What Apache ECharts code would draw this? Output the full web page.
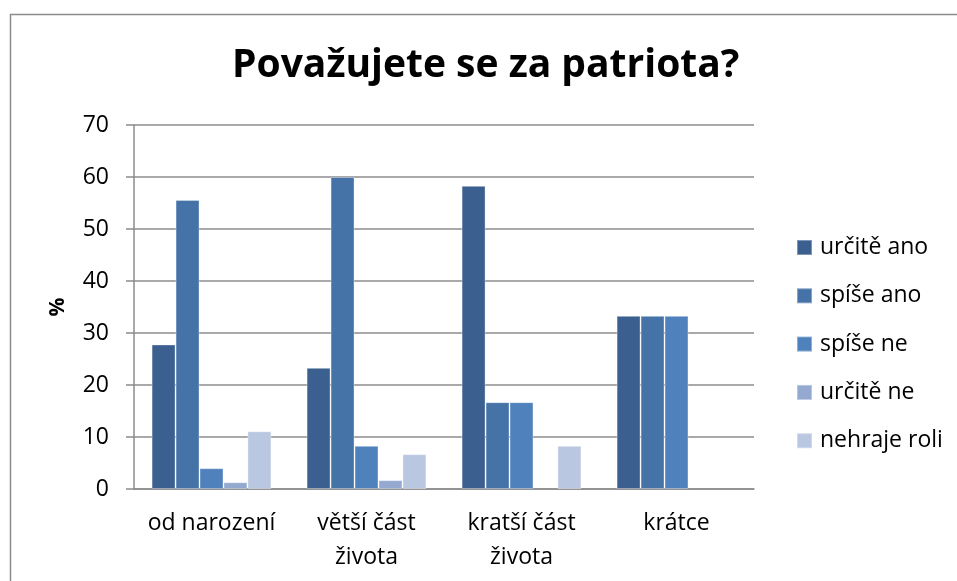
<!DOCTYPE html>
<html>
<head>
<meta charset="utf-8">
<script src="https://cdn.jsdelivr.net/npm/echarts@6/dist/echarts.min.js"></script>
<style>
  html, body { margin: 0; padding: 0; background: #fff; }
  #chart { width: 957px; height: 581px; }
</style>
</head>
<body>
<div id="chart"></div>
<script>
const categories = ['od narození', 'větší část\nživota', 'kratší část\nživota', 'krátce']
const seriesNames = ['určitě ano', 'spíše ano', 'spíše ne', 'určitě ne', 'nehraje roli']
const urciteAno = [27.8, 23.3, 58.3, 33.3]
const spiseAno = [55.6, 60.0, 16.7, 33.3]
const spiseNe = [4.0, 8.3, 16.7, 33.3]
const urciteNe = [1.3, 1.7, null, null]
const nehrajeRoli = [11.1, 6.7, 8.3, null]
const yTicks = [0, 10, 20, 30, 40, 50, 60, 70]

const colors = ['#3b5f8e', '#4573a8', '#4f81bd', '#93a9cf', '#b9c7e1']
const values = [urciteAno, spiseAno, spiseNe, urciteNe, nehrajeRoli]
const font = '"Open Sans", "Noto Sans", sans-serif'

const myChart = echarts.init(document.getElementById('chart'))
myChart.setOption({
  animation: false,
  color: colors,
  textStyle: { fontFamily: font },
  title: {
    text: 'Považujete se za patriota?',
    left: 227,
    top: 41,
    textStyle: { fontSize: 39, fontWeight: 'bold', color: '#000', fontFamily: font },
  },
  graphic: [
    {
      type: 'rect',
      left: 8,
      top: 12,
      shape: { width: 1000, height: 1000 },
      style: { fill: 'none', stroke: '#8c8c8c', lineWidth: 1.5 },
      silent: true,
    },
  ],
  legend: {
    orient: 'vertical',
    left: 796,
    top: 236,
    padding: 0,
    itemWidth: 15,
    itemHeight: 15,
    itemGap: 25.3,
    icon: 'rect',
    textStyle: { fontSize: 23, color: '#000', fontFamily: font, padding: [0, 0, 0, 3] },
    data: seriesNames,
  },
  grid: {
    left: 134,
    right: 203,
    top: 125,
    bottom: 92,
    containLabel: false,
  },
  xAxis: {
    type: 'category',
    data: categories,
    axisLine: { lineStyle: { color: '#8c8c8c', width: 1.5 } },
    axisTick: { show: false },
    axisLabel: {
      fontSize: 23,
      color: '#000',
      lineHeight: 34,
      margin: 17,
      interval: 0,
    },
  },
  yAxis: {
    type: 'value',
    min: yTicks[0],
    max: yTicks[yTicks.length - 1],
    interval: 10,
    name: '%',
    nameLocation: 'middle',
    nameGap: 65,
    nameTextStyle: { fontSize: 21, fontWeight: 'bold', color: '#000' },
    axisLine: { show: true, lineStyle: { color: '#8c8c8c', width: 1.5 } },
    axisTick: { show: true, length: 8, lineStyle: { color: '#8c8c8c', width: 1.5 } },
    axisLabel: { fontSize: 23, color: '#000', margin: 25 },
    splitLine: { lineStyle: { color: '#8c8c8c', width: 1.5 } },
  },
  series: seriesNames.map((name, i) => ({
    name,
    type: 'bar',
    data: values[i],
    barGap: '0%',
    barCategoryGap: '22.7%',
    itemStyle: { borderColor: 'rgba(255,255,255,0.35)', borderWidth: 1 },
  })),
})
</script>
</body>
</html>
